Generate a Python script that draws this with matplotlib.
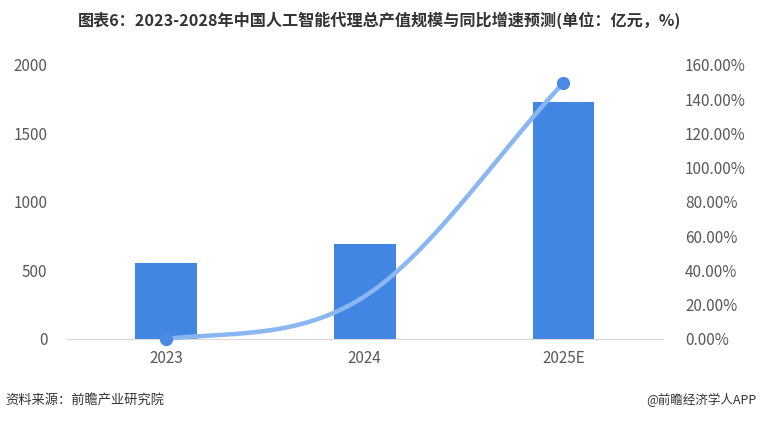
import numpy as np
import matplotlib
matplotlib.use("Agg")
import matplotlib.pyplot as plt

plt.rcParams['font.family'] = ['Noto Sans CJK SC', 'DejaVu Sans']

# --- data
years = ["2023", "2024", "2025E"]
scale = [555, 693, 1730]          # 亿元
growth = [0.0, 24.9, 149.6]       # %

title = "图表6：2023-2028年中国人工智能代理总产值规模与同比增速预测(单位：亿元，%)"
source = "资料来源：前瞻产业研究院"
brand = "@前瞻经济学人APP"

bar_color = "#4086e2"
line_color = "#8ab6f2"
dot_color = "#4a8ae4"
tick_color = "#595959"


def smooth(xs, ys, n=60):
    # catmull-rom through the points, just for the look of the curve
    xs = np.asarray(xs, float)
    ys = np.asarray(ys, float)
    px = np.concatenate([[2 * xs[0] - xs[1]], xs, [2 * xs[-1] - xs[-2]]])
    py = np.concatenate([[ys[0]], ys, [2 * ys[-1] - ys[-2]]])
    outx, outy = [], []
    t = np.linspace(0, 1, n)
    for i in range(1, len(px) - 2):
        for p, out in ((px, outx), (py, outy)):
            p0, p1, p2, p3 = p[i - 1], p[i], p[i + 1], p[i + 2]
            out.extend(0.5 * (2 * p1 + (-p0 + p2) * t
                              + (2 * p0 - 5 * p1 + 4 * p2 - p3) * t ** 2
                              + (-p0 + 3 * p1 - 3 * p2 + p3) * t ** 3))
    return np.array(outx), np.array(outy)


fig = plt.figure(figsize=(7.6, 4.22), dpi=100)
ax = fig.add_axes([0.088, 0.197, 0.784, 0.649])
x = np.arange(len(years))
ax.bar(x, scale, width=0.31, color=bar_color, zorder=2)
ax.set_xlim(-0.5, len(years) - 0.5)
ax.set_ylim(0, 2000)
ax.set_yticks([0, 500, 1000, 1500, 2000])
ax.set_xticks(x)
ax.set_xticklabels(years)
for s in ["top", "right", "left"]:
    ax.spines[s].set_visible(False)
ax.spines["bottom"].set_color("#d9d9d9")
ax.tick_params(axis="both", length=0, colors=tick_color, labelsize=11)
ax.tick_params(axis="x", pad=8)
ax.tick_params(axis="y", pad=14)

ax2 = ax.twinx()
sx, sy = smooth(x, growth)
ax2.plot(sx, sy, color=line_color, lw=3.2, solid_capstyle="round", zorder=3,
         clip_on=False)
ax2.plot([x[0], x[-1]], [growth[0], growth[-1]], "o", color=dot_color,
         markersize=8.5, zorder=4, clip_on=False)
ax2.set_ylim(0, 160)
ax2.set_yticks(np.arange(0, 161, 20))
ax2.set_yticklabels([f"{v:.2f}%" for v in np.arange(0, 161, 20)])
for s in ["top", "right", "left", "bottom"]:
    ax2.spines[s].set_visible(False)
ax2.tick_params(axis="y", length=0, colors=tick_color, labelsize=11, pad=16)

fig.text(0.5, 0.952, title, ha="center", va="center", fontsize=11.6,
         fontweight="bold", color="#333333")
fig.text(0.007, 0.052, source, ha="left", va="center", fontsize=9.5, color="#333333")
fig.text(0.995, 0.052, brand, ha="right", va="center", fontsize=9, color="#333333")

fig.savefig("out.png", dpi=100)
